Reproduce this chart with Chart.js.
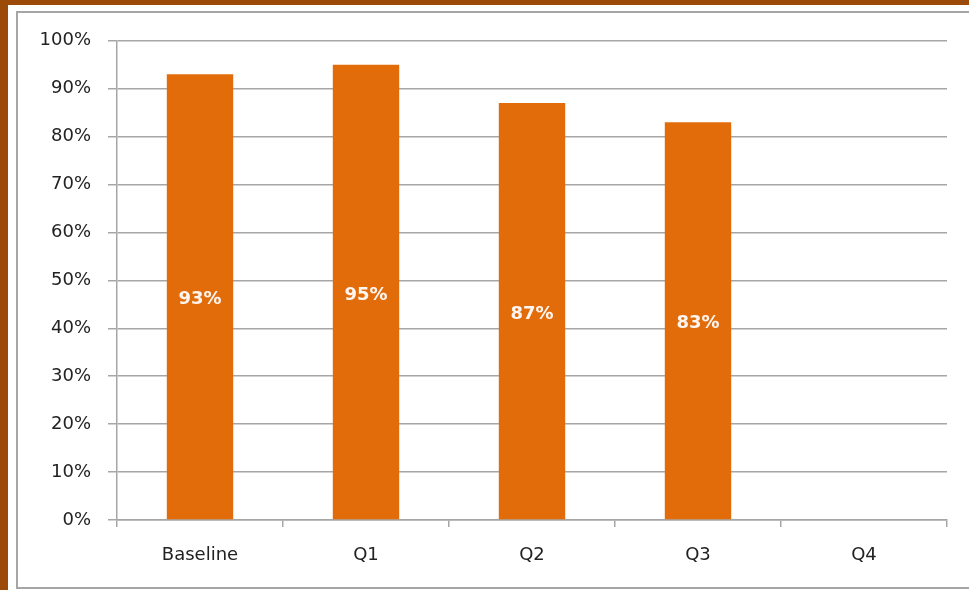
<!DOCTYPE html>
<html>
<head>
<meta charset="utf-8">
<title>Scores by quarter</title>
<script src="https://cdn.jsdelivr.net/npm/chart.js@4.4.1/dist/chart.umd.min.js"></script>
<style>
  html, body { margin: 0; padding: 0; overflow: hidden; }
  body { width: 969px; height: 590px; background: #9c4a07; position: relative; }
  .sheet { position: absolute; left: 8px; top: 5px; width: 961px; height: 585px; background: #fff; }
  .frame { position: absolute; left: 8px; top: 6px; width: 960px; height: 574px; border: 2px solid #a6a6a6; background: #fff; }
  canvas { display: block; }
</style>
</head>
<body>
<div class="sheet">
  <div class="frame">
    <canvas id="scores-chart" width="960" height="574"></canvas>
  </div>
</div>
<script>
// Chart data
const periods = ['Baseline', 'Q1', 'Q2', 'Q3', 'Q4'];
const scores = [93, 95, 87, 83, null];
const yTicks = [0, 10, 20, 30, 40, 50, 60, 70, 80, 90, 100];

const gridGray = '#a6a6a6';
const textColor = '#222222';
const axisFont = { family: '"DejaVu Sans", sans-serif', size: 18 };

// White value labels in the middle of each bar
const barLabels = {
  id: 'barLabels',
  afterDatasetsDraw(chart) {
    const { ctx } = chart;
    const meta = chart.getDatasetMeta(0);
    ctx.save();
    ctx.font = 'bold 18px "DejaVu Sans", sans-serif';
    ctx.fillStyle = '#fff6f2';
    ctx.textAlign = 'center';
    ctx.textBaseline = 'middle';
    meta.data.forEach((bar, i) => {
      const v = scores[i];
      if (v == null) return;
      ctx.fillText(v + '%', bar.x, (bar.y + bar.base) / 2 + 3);
    });
    ctx.restore();
  },
};

const ctx = document.getElementById('scores-chart');
// eslint-disable-next-line no-unused-vars
const chart = new Chart(ctx, {
  type: 'bar',
  data: {
    labels: periods,
    datasets: [
      {
        label: 'Score',
        data: scores,
        backgroundColor: '#e36c0a',
        borderWidth: 0,
        barPercentage: 0.4,
        categoryPercentage: 1,
      },
    ],
  },
  options: {
    responsive: false,
    animation: false,
    layout: {
      padding: { top: 27, right: 31, bottom: 0, left: 0 },
    },
    scales: {
      y: {
        min: 0,
        max: 100,
        afterFit: (scale) => { scale.width = 99; },
        afterBuildTicks: (scale) => { scale.ticks = yTicks.map((v) => ({ value: v })); },
        grid: {
          color: gridGray,
          lineWidth: 1.5,
          tickLength: 9,
          tickColor: gridGray,
        },
        border: { display: true, color: gridGray, width: 1.5 },
        ticks: {
          padding: 17,
          color: textColor,
          font: axisFont,
          callback: (value) => value + '%',
        },
      },
      x: {
        afterFit: (scale) => { scale.height = 67; },
        grid: {
          display: true,
          drawOnChartArea: false,
          offset: true,
          tickLength: 7,
          color: gridGray,
          lineWidth: 1.5,
        },
        border: { display: true, color: gridGray, width: 1.5 },
        ticks: {
          padding: 18,
          color: textColor,
          font: axisFont,
          maxRotation: 0,
        },
      },
    },
    plugins: {
      legend: { display: false },
      tooltip: { enabled: false },
    },
  },
  plugins: [barLabels],
});
</script>
</body>
</html>
